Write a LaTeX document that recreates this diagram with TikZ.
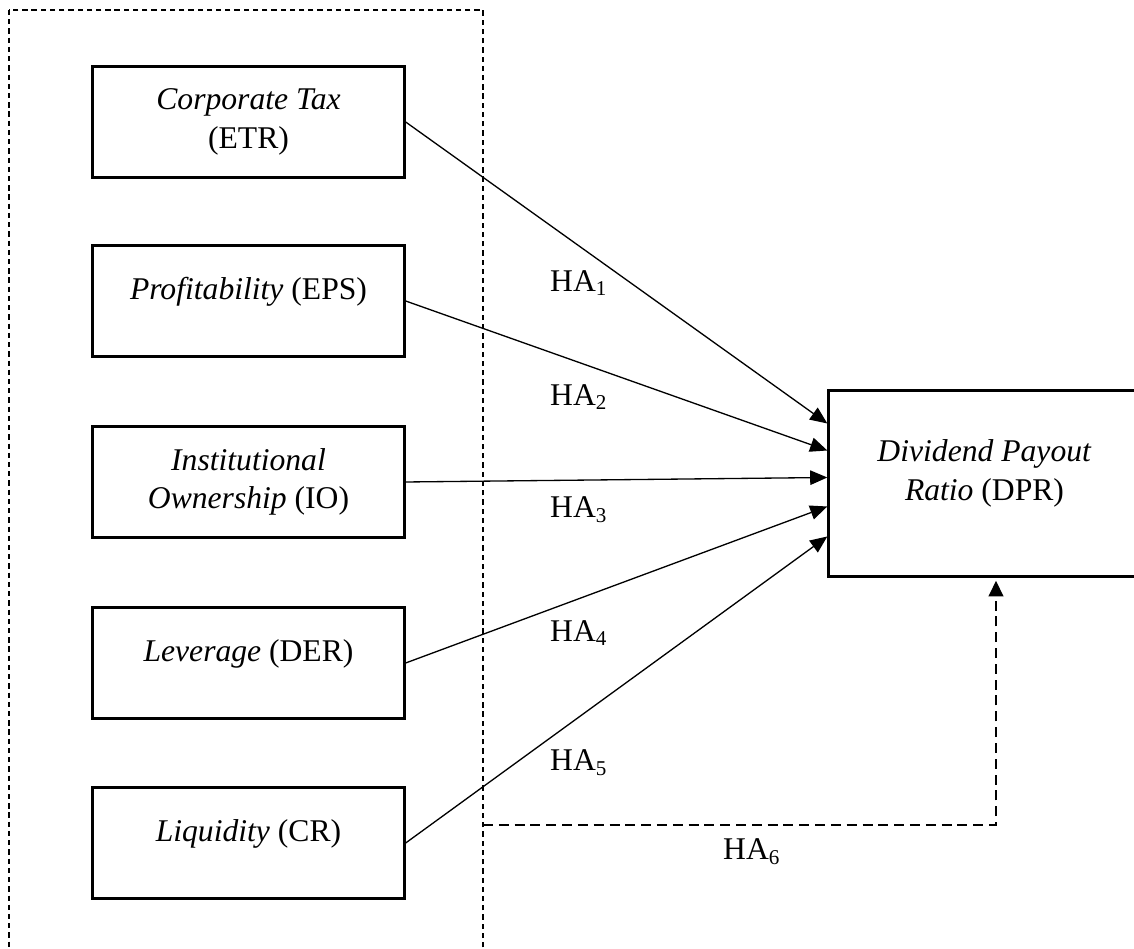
\documentclass[tikz,border=0pt]{standalone}
\usepackage{fontspec}
\setmainfont{Liberation Serif}
\usetikzlibrary{arrows.meta,calc}
\tikzset{
  varbox/.style={draw,line width=1.2pt,minimum width=4.15cm,minimum height=1.47cm,align=center,inner sep=0pt},
  lift/.style={text depth=#1},
  arr/.style={line width=.5pt,-{Triangle[length=6.5pt,width=5.5pt]}},
  grp/.style={line width=.5pt,dash pattern=on 2pt off 1.5pt},
  modline/.style={line width=1.1pt,dash pattern=on 3.8pt off 2.2pt,-{Triangle[length=6pt,width=5.5pt]}}
}
\begin{document}
\begin{tikzpicture}[x=0.01333cm,y=-0.01333cm,font=\fontsize{12}{14.5}\selectfont]
	\useasboundingbox (0,0) rectangle (1134,949);
	\path (9,10) coordinate (gtl)
	(483,975) coordinate (gbr)
	(483,825) coordinate (hsrc)
	(996,825) coordinate (kink);
	\draw[grp] (gtl) rectangle (gbr);
	% independent variables
	\node[varbox] (etr) at (248.5,122) {\textit{Corporate Tax}\\(ETR)};
	\node[varbox,lift=.33cm] (eps) at (248.5,301) {\textit{Profitability} (EPS)};
	\node[varbox] (io) at (248.5,482) {\textit{Institutional}\\\textit{Ownership} (IO)};
	\node[varbox,lift=.33cm] (der) at (248.5,663) {\textit{Leverage} (DER)};
	\node[varbox,lift=.33cm] (cr) at (248.5,843) {\textit{Liquidity} (CR)};
	% dependent variable
	\node[varbox,minimum height=2.47cm,lift=.36cm] (dpr) at (984.5,483.5) {\textit{Dividend Payout}\\\textit{Ratio} (DPR)};
	\foreach \n/\d in {etr/-60,eps/-33,io/-6,der/23,cr/53}{
		\draw[arr] (\n.east) -- ($(dpr.west)+(0,\d)$);
	}
	\foreach \i/\y in {1/283,2/397,3/510,4/633,5/763}{
		\node (ha\i) at (579,\y) {HA\textsubscript{\i}};
	}
	\draw[modline] (hsrc) -- (kink) -- ($(kink |- dpr.south)+(0,3)$);
	\node (ha6) at (752,852) {HA\textsubscript{6}};
\end{tikzpicture}
\end{document}
